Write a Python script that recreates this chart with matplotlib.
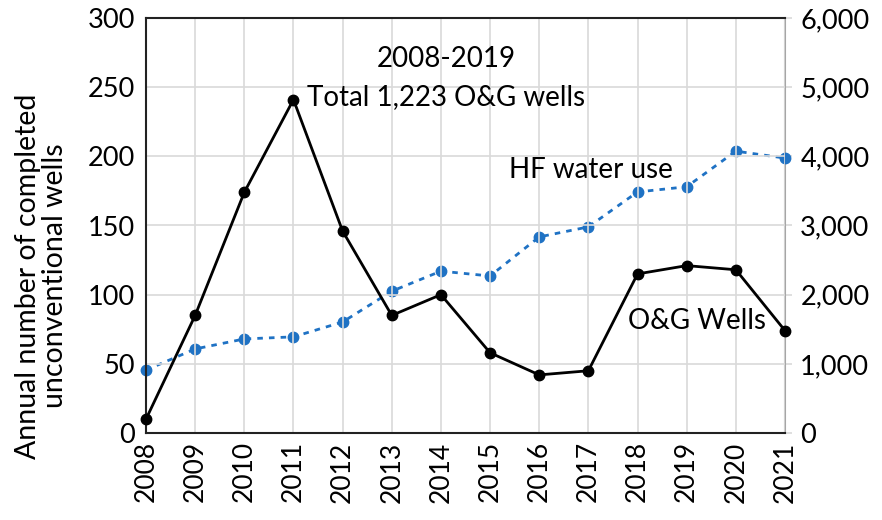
import matplotlib.pyplot as plt

years = [2008, 2009, 2010, 2011, 2012, 2013, 2014, 2015, 2016, 2017, 2018, 2019, 2020, 2021]
wells = [10, 85, 174, 241, 146, 85, 100, 58, 42, 45, 115, 121, 118, 74]
water = [910, 1215, 1360, 1390, 1605, 2050, 2340, 2270, 2835, 2980, 3485, 3560, 4075, 3975]

plt.rcParams['font.family'] = ['Lato', 'DejaVu Sans']

fig = plt.figure(figsize=(8.82, 5.2), dpi=100)
ax1 = fig.add_axes([146 / 882, 1 - 433 / 520, (785 - 146) / 882, (433 - 18) / 520])
ax2 = ax1.twinx()

# сетка
ax1.set_xlim(2008, 2021)
ax1.set_ylim(0, 300)
ax2.set_ylim(0, 6000)
ax1.set_xticks(years)
ax1.set_xticklabels([str(y) for y in years], rotation=90)
ax1.set_yticks(range(0, 301, 50))
ax2.set_yticks(range(0, 6001, 1000))
ax2.set_yticklabels([f'{v:,}' for v in range(0, 6001, 1000)])
ax1.grid(color='#d9d9d9', linewidth=1.2)
ax1.set_axisbelow(True)

ax2.plot(years, water, color='#1f72c4', linestyle=(0, (2, 2.2)), linewidth=2,
         marker='o', markersize=7.5, clip_on=False, zorder=3)
ax1.plot(years, wells, color='black', linewidth=2, marker='o', markersize=7.5,
         clip_on=False, zorder=4)
ax1.set_zorder(ax2.get_zorder() + 1)
ax1.patch.set_visible(False)

for a in (ax1, ax2):
    a.tick_params(labelsize=19.5, length=0, pad=8)
ax1.tick_params(axis='x', labelsize=19, pad=6)
ax2.tick_params(axis='y', length=5, color='#d9d9d9', width=1.2, pad=6)

for s in ('left', 'bottom', 'top'):
    ax1.spines[s].set_color('#222222')
    ax1.spines[s].set_linewidth(1.5)
ax1.spines['right'].set_visible(False)
for s in ('left', 'bottom', 'top'):
    ax2.spines[s].set_visible(False)
ax2.spines['right'].set_color('#a6a6a6')
ax2.spines['right'].set_linewidth(1.5)

ax1.set_ylabel('Annual number of completed\nunconventional wells', fontsize=20.5, labelpad=14,
               linespacing=1.05)
ax1.yaxis.label.set_y(0.378)

ax1.text(2014.1, 270, '2008-2019', fontsize=20, ha='center', va='center')
ax1.text(2014.1, 243, 'Total 1,223 O&G wells', fontsize=20, ha='center', va='center')
ax1.text(2017.05, 190, 'HF water use', fontsize=20, ha='center', va='center')
ax1.text(2019.2, 81, 'O&G Wells', fontsize=20, ha='center', va='center')

fig.savefig('out.png', dpi=100)
